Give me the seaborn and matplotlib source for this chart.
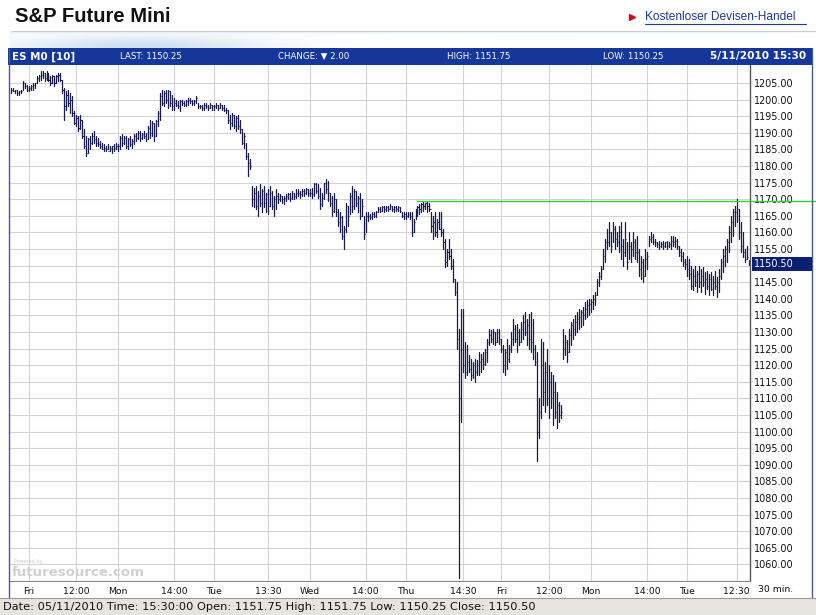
import numpy as np
import pandas as pd
import matplotlib
matplotlib.use("Agg")
import matplotlib.pyplot as plt
import seaborn as sns
from matplotlib.patches import Rectangle
from matplotlib.lines import Line2D

# ---------------- data (30-minute bars, ES M0) ----------------
# Thu 4/29 evening
low_thu1 = [1202.0, 1202.5, 1202.0, 1201.5, 1201.5, 1202.0, 1203.0, 1203.5, 1202.5]
high_thu1 = [1203.5, 1203.5, 1203.0, 1203.0, 1202.5, 1203.0, 1205.5, 1205.0, 1204.5]
close_thu1 = [1203.0, 1202.5, 1203.0, 1202.0, 1202.5, 1202.5, 1205.0, 1204.0, 1203.0]
# Fri 4/30
low_fri1 = [1202.5, 1203.0, 1203.0, 1203.5, 1205.0, 1205.5, 1206.0, 1206.5, 1205.5, 1206.0, 1205.5,
            1204.5, 1205.0, 1204.0, 1205.0, 1205.5, 1205.5, 1202.0, 1194.0, 1197.0, 1198.0, 1196.0,
            1195.0, 1192.5, 1192.0, 1190.5, 1191.0, 1188.5, 1185.5, 1183.0, 1184.0, 1185.0, 1186.5,
            1187.0, 1186.0, 1186.0, 1185.5, 1185.0, 1184.5, 1184.5, 1185.0, 1184.5, 1184.0, 1184.5, 1185.0]
high_fri1 = [1204.0, 1204.5, 1205.0, 1205.0, 1207.0, 1207.5, 1208.5, 1208.5, 1208.0, 1208.5, 1208.0,
             1207.0, 1207.5, 1207.0, 1207.5, 1208.0, 1208.0, 1206.0, 1203.5, 1202.5, 1203.0, 1202.0,
             1201.0, 1196.5, 1195.5, 1195.0, 1195.5, 1194.0, 1191.0, 1189.0, 1188.5, 1189.0, 1190.0,
             1190.5, 1189.0, 1188.5, 1187.5, 1187.0, 1186.5, 1186.0, 1186.5, 1186.0, 1186.0, 1186.5, 1187.0]
close_fri1 = [1203.5, 1204.0, 1204.5, 1205.0, 1206.5, 1207.0, 1207.5, 1208.0, 1206.5, 1208.0, 1206.0,
              1205.0, 1207.0, 1205.0, 1207.0, 1207.5, 1206.0, 1203.0, 1198.0, 1201.5, 1199.0, 1200.0,
              1196.0, 1193.0, 1194.5, 1191.5, 1194.0, 1189.0, 1186.0, 1184.0, 1188.0, 1187.0, 1189.0,
              1188.0, 1187.0, 1186.5, 1186.0, 1185.0, 1185.5, 1185.0, 1184.5, 1185.5, 1186.0, 1185.5, 1186.0]
# Mon 5/3
low_mon1 = [1184.5, 1185.0, 1186.0, 1186.5, 1185.5, 1185.0, 1186.0, 1185.5, 1186.5, 1187.5, 1188.0, 1187.5,
            1188.0, 1188.5, 1187.5, 1188.0, 1188.5, 1189.0, 1187.5, 1189.0, 1192.0, 1194.0, 1198.5, 1198.0,
            1199.0, 1197.5, 1198.0, 1197.0, 1197.0, 1198.0, 1197.5, 1196.5, 1198.5, 1198.0, 1198.0, 1198.5,
            1199.0, 1198.5, 1198.5, 1199.0, 1197.5, 1197.5, 1197.0, 1197.0, 1197.5, 1197.0, 1197.5, 1197.0]
high_mon1 = [1186.5, 1189.0, 1189.5, 1189.0, 1189.0, 1188.5, 1189.0, 1188.0, 1189.5, 1190.0, 1190.5, 1190.5,
             1190.0, 1190.5, 1190.0, 1192.0, 1194.0, 1193.5, 1193.0, 1194.0, 1196.5, 1202.0, 1203.0, 1202.5,
             1203.0, 1203.0, 1202.5, 1201.5, 1200.5, 1200.0, 1199.5, 1200.0, 1200.0, 1199.5, 1200.0, 1200.5,
             1200.5, 1200.0, 1200.0, 1201.0, 1199.0, 1198.5, 1198.5, 1199.0, 1199.0, 1198.5, 1199.0, 1198.5]
close_mon1 = [1186.0, 1188.5, 1187.0, 1188.5, 1186.0, 1188.0, 1186.5, 1187.5, 1189.0, 1188.5, 1190.0, 1188.5,
              1189.5, 1189.0, 1188.0, 1191.5, 1190.0, 1193.0, 1189.0, 1193.5, 1196.0, 1201.0, 1199.0, 1202.0,
              1200.0, 1202.5, 1199.0, 1198.0, 1199.0, 1198.5, 1198.0, 1199.5, 1199.0, 1198.5, 1199.5, 1200.0,
              1199.5, 1199.0, 1199.5, 1200.5, 1198.0, 1198.0, 1197.5, 1198.5, 1198.0, 1197.5, 1198.5, 1198.0]
# Tue 5/4
low_tue1 = [1197.0, 1197.5, 1197.0, 1197.5, 1197.0, 1196.5, 1196.0, 1193.0, 1191.0, 1192.0, 1191.5, 1190.5,
            1191.0, 1190.0, 1186.5, 1185.5, 1182.0, 1177.0, 1179.0, 1168.0, 1167.5, 1167.0, 1165.0, 1168.0,
            1166.0, 1167.5, 1166.0, 1165.5, 1168.0, 1167.0, 1165.0, 1167.0, 1169.0, 1169.5, 1169.0, 1168.5,
            1169.5, 1170.0, 1169.5, 1170.0, 1170.0, 1170.5, 1171.0, 1170.5, 1171.0, 1171.0, 1171.5, 1171.0]
high_tue1 = [1198.5, 1199.0, 1198.5, 1199.0, 1198.5, 1198.5, 1197.5, 1197.0, 1195.5, 1196.0, 1195.5, 1195.0,
             1195.5, 1194.0, 1191.0, 1190.0, 1187.0, 1184.0, 1182.0, 1174.0, 1173.5, 1174.0, 1172.5, 1174.5,
             1173.0, 1174.0, 1172.0, 1173.0, 1174.0, 1172.5, 1171.0, 1173.0, 1172.0, 1171.5, 1171.0, 1171.0,
             1171.5, 1172.0, 1172.0, 1172.5, 1172.0, 1173.0, 1173.0, 1172.5, 1173.0, 1173.0, 1173.5, 1173.0]
close_tue1 = [1198.0, 1198.5, 1197.5, 1198.5, 1197.5, 1197.0, 1197.0, 1194.0, 1193.0, 1195.5, 1192.0, 1194.5,
              1192.0, 1191.0, 1187.0, 1189.0, 1183.0, 1181.0, 1180.0, 1170.0, 1172.0, 1168.0, 1171.0, 1169.0,
              1172.5, 1169.0, 1171.5, 1168.0, 1172.0, 1168.0, 1170.0, 1171.0, 1170.0, 1171.0, 1170.0, 1170.5,
              1171.0, 1171.5, 1170.5, 1172.0, 1171.0, 1172.0, 1172.0, 1171.5, 1172.5, 1172.0, 1173.0, 1172.0]
# Wed 5/5
low_wed = [1171.0, 1170.5, 1171.0, 1172.0, 1170.5, 1167.0, 1168.0, 1170.0, 1172.0, 1169.5, 1168.0, 1165.0,
           1166.0, 1165.0, 1162.0, 1160.0, 1158.0, 1155.0, 1160.0, 1162.0, 1165.5, 1166.0, 1167.0, 1168.0,
           1166.0, 1164.0, 1165.0, 1158.0, 1160.0, 1163.5, 1164.0, 1164.0, 1164.5, 1164.5, 1166.0, 1166.0,
           1166.5, 1166.0, 1166.5, 1166.5, 1167.0, 1166.5, 1166.0, 1166.5, 1166.5, 1166.0, 1164.5, 1164.0]
high_wed = [1173.0, 1173.5, 1175.0, 1175.0, 1174.5, 1173.5, 1172.0, 1175.0, 1176.0, 1175.5, 1172.0, 1171.0,
            1172.0, 1170.0, 1167.0, 1166.0, 1165.0, 1162.0, 1169.0, 1168.0, 1172.0, 1174.0, 1173.0, 1172.5,
            1171.0, 1172.0, 1170.0, 1165.0, 1166.0, 1166.0, 1165.5, 1166.0, 1166.0, 1166.5, 1167.5, 1167.5,
            1168.0, 1168.0, 1168.0, 1168.0, 1168.5, 1168.0, 1168.0, 1168.0, 1168.0, 1167.5, 1166.0, 1166.0]
close_wed = [1172.0, 1171.5, 1174.5, 1172.5, 1171.0, 1168.5, 1170.5, 1175.0, 1173.0, 1172.0, 1169.0, 1166.5,
             1170.0, 1166.0, 1163.0, 1164.5, 1159.0, 1161.0, 1168.0, 1165.0, 1171.0, 1168.0, 1172.5, 1169.0,
             1170.5, 1165.0, 1168.0, 1159.5, 1165.0, 1165.0, 1164.5, 1165.5, 1165.0, 1166.0, 1167.0, 1166.5,
             1167.5, 1167.0, 1167.5, 1167.0, 1168.0, 1167.0, 1167.5, 1167.0, 1167.5, 1166.5, 1165.0, 1165.5]
# Thu 5/6
low_thu2 = [1164.0, 1164.5, 1164.0, 1159.0, 1160.0, 1164.0, 1165.0, 1165.5, 1166.0, 1166.5, 1167.0, 1166.0,
            1166.5, 1160.0, 1158.0, 1159.0, 1158.5, 1161.0, 1159.0, 1155.0, 1149.5, 1150.0, 1152.0, 1149.0,
            1145.0, 1141.0, 1125.0, 1056.0, 1103.0, 1118.0, 1116.0, 1117.0, 1118.0, 1115.5, 1116.0, 1115.0,
            1117.0, 1117.0, 1118.0, 1119.0, 1120.0, 1121.0, 1126.0, 1127.0, 1126.5, 1126.0, 1127.0, 1126.5]
high_thu2 = [1166.0, 1166.0, 1166.0, 1166.0, 1164.0, 1167.0, 1168.0, 1168.5, 1169.0, 1169.5, 1169.0, 1169.5,
             1169.0, 1166.0, 1165.0, 1166.0, 1164.0, 1166.0, 1166.0, 1161.0, 1158.0, 1155.0, 1158.0, 1155.0,
             1152.0, 1146.0, 1145.0, 1131.0, 1137.0, 1137.0, 1127.0, 1126.0, 1123.0, 1122.0, 1121.0, 1122.0,
             1121.5, 1124.0, 1123.5, 1124.0, 1125.0, 1128.0, 1131.0, 1130.5, 1131.0, 1130.0, 1131.0, 1131.0]
close_thu2 = [1165.0, 1165.5, 1165.0, 1160.0, 1163.0, 1166.5, 1167.5, 1167.0, 1168.5, 1168.0, 1169.0, 1168.0,
              1167.0, 1162.0, 1163.0, 1160.0, 1163.0, 1161.0, 1160.0, 1157.0, 1151.0, 1154.0, 1153.0, 1150.0,
              1146.0, 1142.0, 1128.0, 1110.0, 1125.0, 1120.0, 1118.0, 1121.0, 1119.0, 1117.0, 1120.0, 1118.0,
              1120.0, 1121.0, 1122.0, 1120.5, 1124.0, 1127.0, 1129.0, 1128.0, 1130.0, 1127.0, 1130.0, 1128.0]
# Fri 5/7
low_fri2 = [1124.0, 1118.0, 1117.0, 1119.0, 1121.0, 1124.0, 1126.0, 1127.0, 1124.0, 1126.0, 1127.0, 1128.0,
            1129.0, 1126.0, 1125.0, 1124.0, 1122.0, 1120.0, 1091.0, 1098.0, 1104.0, 1108.0, 1106.0, 1108.0,
            1104.0, 1107.0, 1102.0, 1104.0, 1101.0, 1103.0, 1104.0, 1122.0, 1123.0, 1121.0, 1124.0, 1126.0,
            1128.0, 1129.0, 1130.0, 1131.0, 1131.5, 1132.0, 1134.0, 1134.5, 1135.0]
high_fri2 = [1128.0, 1126.0, 1125.0, 1128.0, 1126.0, 1130.0, 1134.0, 1132.0, 1132.5, 1131.0, 1133.0, 1135.0,
             1136.0, 1134.0, 1135.5, 1136.0, 1134.0, 1126.0, 1124.0, 1110.0, 1128.0, 1127.0, 1121.0, 1125.0,
             1120.0, 1118.0, 1117.0, 1115.0, 1112.0, 1109.0, 1108.0, 1131.0, 1129.0, 1127.5, 1131.0, 1133.0,
             1134.0, 1135.0, 1136.0, 1137.0, 1136.5, 1137.5, 1139.0, 1139.5, 1140.0]
close_fri2 = [1125.0, 1120.0, 1124.0, 1122.0, 1125.0, 1128.0, 1131.0, 1128.0, 1130.0, 1127.0, 1131.0, 1133.0,
              1130.0, 1132.0, 1128.0, 1127.0, 1125.0, 1121.0, 1100.0, 1106.0, 1120.0, 1112.0, 1118.0, 1110.0,
              1115.0, 1110.0, 1112.0, 1106.0, 1108.0, 1105.0, 1106.0, 1125.0, 1127.0, 1124.0, 1129.0, 1132.0,
              1131.0, 1133.0, 1134.0, 1134.5, 1136.0, 1135.0, 1137.0, 1138.0, 1138.5]
# Mon 5/10
low_mon2 = [1136.0, 1137.0, 1138.0, 1141.0, 1144.0, 1146.0, 1149.0, 1151.0, 1155.0, 1156.0, 1154.0, 1157.0,
            1155.0, 1156.0, 1154.0, 1152.0, 1150.0, 1153.0, 1149.0, 1152.0, 1151.0, 1153.0, 1152.0, 1151.0,
            1147.0, 1146.0, 1145.0, 1147.0, 1149.0, 1156.0, 1157.0, 1156.5, 1156.0, 1155.5, 1155.0, 1155.5,
            1155.0, 1155.5, 1155.0, 1155.5, 1155.0, 1156.0, 1155.5, 1155.0, 1153.0, 1151.5, 1150.0, 1149.0]
high_mon2 = [1140.0, 1141.0, 1142.0, 1146.0, 1148.0, 1150.0, 1155.0, 1158.0, 1161.0, 1163.0, 1160.0, 1163.0,
             1162.0, 1160.0, 1162.0, 1163.0, 1158.0, 1163.0, 1157.0, 1160.0, 1157.0, 1160.0, 1158.0, 1159.0,
             1155.0, 1153.0, 1152.0, 1155.0, 1154.0, 1159.0, 1160.0, 1159.5, 1158.0, 1157.0, 1157.5, 1157.0,
             1157.5, 1157.0, 1157.5, 1157.0, 1159.0, 1159.0, 1158.5, 1158.0, 1156.0, 1155.0, 1154.0, 1152.0]
close_mon2 = [1139.0, 1140.0, 1141.0, 1145.0, 1147.0, 1149.0, 1153.0, 1157.0, 1157.0, 1160.0, 1156.0, 1161.0,
              1158.0, 1157.0, 1160.0, 1156.0, 1154.0, 1158.0, 1151.0, 1156.0, 1155.0, 1157.0, 1154.0, 1154.0,
              1149.0, 1151.0, 1147.0, 1152.0, 1153.0, 1158.0, 1158.5, 1157.0, 1157.0, 1156.5, 1156.0, 1156.5,
              1156.0, 1157.0, 1156.0, 1156.5, 1157.5, 1157.0, 1157.5, 1156.0, 1154.0, 1153.0, 1151.0, 1150.5]
# Tue 5/11
low_tue2 = [1147.0, 1146.0, 1143.0, 1142.5, 1144.0, 1142.0, 1143.5, 1142.0, 1144.0, 1141.5, 1143.0, 1141.0,
            1142.5, 1141.0, 1143.0, 1140.5, 1142.0, 1146.0, 1148.0, 1150.0, 1151.0, 1154.0, 1157.0, 1159.0,
            1162.0, 1163.0, 1158.0, 1154.0, 1152.5, 1151.0, 1152.0, 1150.25]
high_tue2 = [1153.0, 1152.0, 1150.0, 1149.0, 1150.0, 1148.5, 1150.0, 1149.0, 1149.5, 1148.0, 1148.5, 1147.5,
             1148.0, 1147.0, 1148.5, 1146.5, 1149.0, 1152.0, 1155.0, 1156.0, 1158.0, 1162.0, 1165.0, 1167.0,
             1168.0, 1170.0, 1167.0, 1163.0, 1160.0, 1155.0, 1156.0, 1151.75]
close_tue2 = [1149.0, 1147.5, 1144.0, 1147.0, 1145.0, 1147.5, 1145.0, 1147.0, 1145.0, 1146.0, 1144.0, 1146.0,
              1143.0, 1145.0, 1144.0, 1145.0, 1147.0, 1151.0, 1153.0, 1155.0, 1157.0, 1160.0, 1163.0, 1166.0,
              1166.0, 1167.0, 1160.0, 1156.0, 1154.0, 1152.0, 1152.5, 1150.5]

x_tick_pos = [9, 33, 54, 82, 102, 129, 150, 178, 198, 227, 246, 270, 291, 319, 339, 364]
x_tick_labels = ["Fri", "12:00", "Mon", "14:00", "Tue", "13:30", "Wed", "14:00", "Thu",
                 "14:30", "Fri", "12:00", "Mon", "14:00", "Tue", "12:30"]
y_ticks = list(range(1060, 1206, 5))
ref_level = 1169.5          # green horizontal line
ref_start_bar = 204
last_price = 1150.50

header_items = ["LAST: 1150.25", "CHANGE: \u25BC 2.00", "HIGH: 1151.75", "LOW: 1150.25"]
status_text = ("Date: 05/11/2010 Time: 15:30:00 Open: 1151.75 High: 1151.75 "
               "Low: 1150.25 Close: 1150.50")

# ---------------- assemble ----------------
low = np.array(low_thu1 + low_fri1 + low_mon1 + low_tue1 + low_wed + low_thu2 + low_fri2 + low_mon2 + low_tue2)
high = np.array(high_thu1 + high_fri1 + high_mon1 + high_tue1 + high_wed + high_thu2 + high_fri2 + high_mon2 + high_tue2)
close = np.array(close_thu1 + close_fri1 + close_mon1 + close_tue1 + close_wed + close_thu2 + close_fri2 + close_mon2 + close_tue2)
n = len(low)
idx = np.arange(n)

df = pd.DataFrame({"bar": np.repeat(idx, 2),
                   "price": np.column_stack([low, high]).ravel()})

W, H = 816, 615
sns.set_theme(style="white")
plt.rcParams["font.family"] = ["DejaVu Sans"]
fig = plt.figure(figsize=(W / 100, H / 100), dpi=100)
fig.patch.set_facecolor("white")


def prect(x0, y0, x1, y1):
    return [x0 / W, 1 - y1 / H, (x1 - x0) / W, (y1 - y0) / H]


def fx(x):
    return x / W


def fy(y):
    return 1 - y / H


# decorative swoosh below title
axd = fig.add_axes(prect(10, 31, 816, 48))
gx = np.linspace(0, 1, 400)
gy = np.linspace(0, 1, 40)
GX, GY = np.meshgrid(gx, gy)
inten = np.exp(-((GX - 0.16) / 0.15) ** 2) * np.clip(GY * 1.3, 0, 1) * 0.85
inten += np.exp(-(GY / 0.15) ** 2) * 0.45 * (1 - GX * 0.6)
inten = np.clip(inten, 0, 1)
base = np.array([0.78, 0.86, 0.94])
img = 1 - inten[..., None] * (1 - base[None, None, :])
axd.imshow(img, aspect="auto", extent=[0, 1, 1, 0])
axd.axis("off")
fig.add_artist(Line2D([fx(12), fx(816)], [fy(31), fy(31)], color="#C9CED6", lw=0.8))

# title + link
fig.text(fx(15), fy(17), "S&P Future Mini", fontsize=14.6, fontweight="bold",
         family=["Liberation Sans", "DejaVu Sans"], va="center", ha="left", color="#111111")
fig.text(fx(645), fy(17), "Kostenloser Devisen-Handel", fontsize=8.6,
         family=["Liberation Sans", "DejaVu Sans"], va="center", ha="left", color="#1F3A8C")
fig.add_artist(Line2D([fx(645), fx(806)], [fy(24), fy(24)], color="#1F3A8C", lw=0.8))
fig.add_artist(Line2D([fx(632)], [fy(17)], marker=">", color="#D01010", markersize=4.5, lw=0))

# header bar
fig.add_artist(Rectangle((fx(8), fy(65)), (812 - 8) / W, 17 / H, facecolor="#15379A",
                         edgecolor="none", transform=fig.transFigure))
fig.text(fx(12), fy(56.5), "ES M0 [10]", fontsize=7.4, fontweight="bold", color="white",
         va="center", ha="left")
for xpos, txt in zip([120, 278, 447, 603], header_items):
    fig.text(fx(xpos), fy(56.5), txt, fontsize=6.2, color="white", va="center", ha="left")
fig.text(fx(806), fy(56.5), "5/11/2010 15:30", fontsize=7.6, fontweight="bold", color="white",
         va="center", ha="right")

# main chart axes
ax = fig.add_axes(prect(10, 65, 750, 581))
ax.set_facecolor("white")
bar_color = "#1A1A4A"
sns.lineplot(data=df, x="bar", y="price", units="bar", estimator=None, color=bar_color,
             lw=0.9, ax=ax, legend=False)
ax.hlines(close, idx, idx + 0.55, color=bar_color, lw=0.8)

ax.set_xlim(-0.3, n - 0.3)
ax.set_ylim(1055.0, 1210.42)
ax.set_xticks(x_tick_pos)
ax.set_xticklabels(x_tick_labels)
ax.set_yticks(y_ticks)
# the 1150 label sits under the last-price box
ax.set_yticklabels(["" if v == 1150 else f"{v:.2f}" for v in y_ticks])
ax.yaxis.tick_right()
ax.tick_params(axis="y", length=0, pad=3, labelsize=6.9, colors="#111111")
ax.tick_params(axis="x", length=0, pad=4, labelsize=6.7, colors="#111111")
for lab in ax.get_yticklabels():
    lab.set_horizontalalignment("left")
ax.grid(True, color="#D3D3D3", lw=0.8)
ax.set_axisbelow(True)
ax.set_xlabel("")
ax.set_ylabel("")
for s in ["top", "left"]:
    ax.spines[s].set_visible(False)
ax.spines["right"].set_color("#555555")
ax.spines["right"].set_linewidth(1.0)
ax.spines["bottom"].set_color("#8A8A8A")
ax.spines["bottom"].set_linewidth(0.8)

# green reference line, runs past the axis to the page edge
ax.axhline(ref_level, xmin=(ref_start_bar + 0.3) / n, xmax=(816 - 10) / 740,
           color="#3CCB3C", lw=1.0, clip_on=False, zorder=5)

# last price box on the price scale
yb = ax.transData.transform((0, last_price))[1]
yb_fig = fig.transFigure.inverted().transform((0, yb))[1]
fig.add_artist(Rectangle((fx(752), yb_fig - 7 / H), 60 / W, 14 / H, facecolor="#0B2070",
                         edgecolor="none", transform=fig.transFigure, zorder=6))
fig.text(fx(754), yb_fig, f"{last_price:.2f}", fontsize=6.9, color="white", va="center",
         ha="left", zorder=7)

fig.text(fx(776), fy(589), "30 min.", fontsize=6.7, color="#111111", va="center", ha="center")

# watermark
fig.text(fx(14), fy(562), "Powered by", fontsize=3.5, color="#C8C8C8", va="center", ha="left")
fig.text(fx(12), fy(572), "futuresource.com", fontsize=9.5, fontweight="bold", color="#D0D0D0",
         va="center", ha="left")

# frame
fig.add_artist(Line2D([fx(9), fx(9)], [fy(48), fy(598)], color="#4A5A8A", lw=1.0))
fig.add_artist(Line2D([fx(812), fx(812)], [fy(48), fy(598)], color="#4A5A8A", lw=1.0))

# status bar
fig.add_artist(Rectangle((0, 0), 1, 17 / H, facecolor="#E5E5DE", edgecolor="none",
                         transform=fig.transFigure))
fig.add_artist(Line2D([0, 1], [fy(598), fy(598)], color="#9A9A9A", lw=0.8))
fig.text(fx(3), fy(607), status_text, fontsize=8.2, color="#111111", va="center", ha="left")

fig.savefig("out.png", dpi=100, facecolor="white")
